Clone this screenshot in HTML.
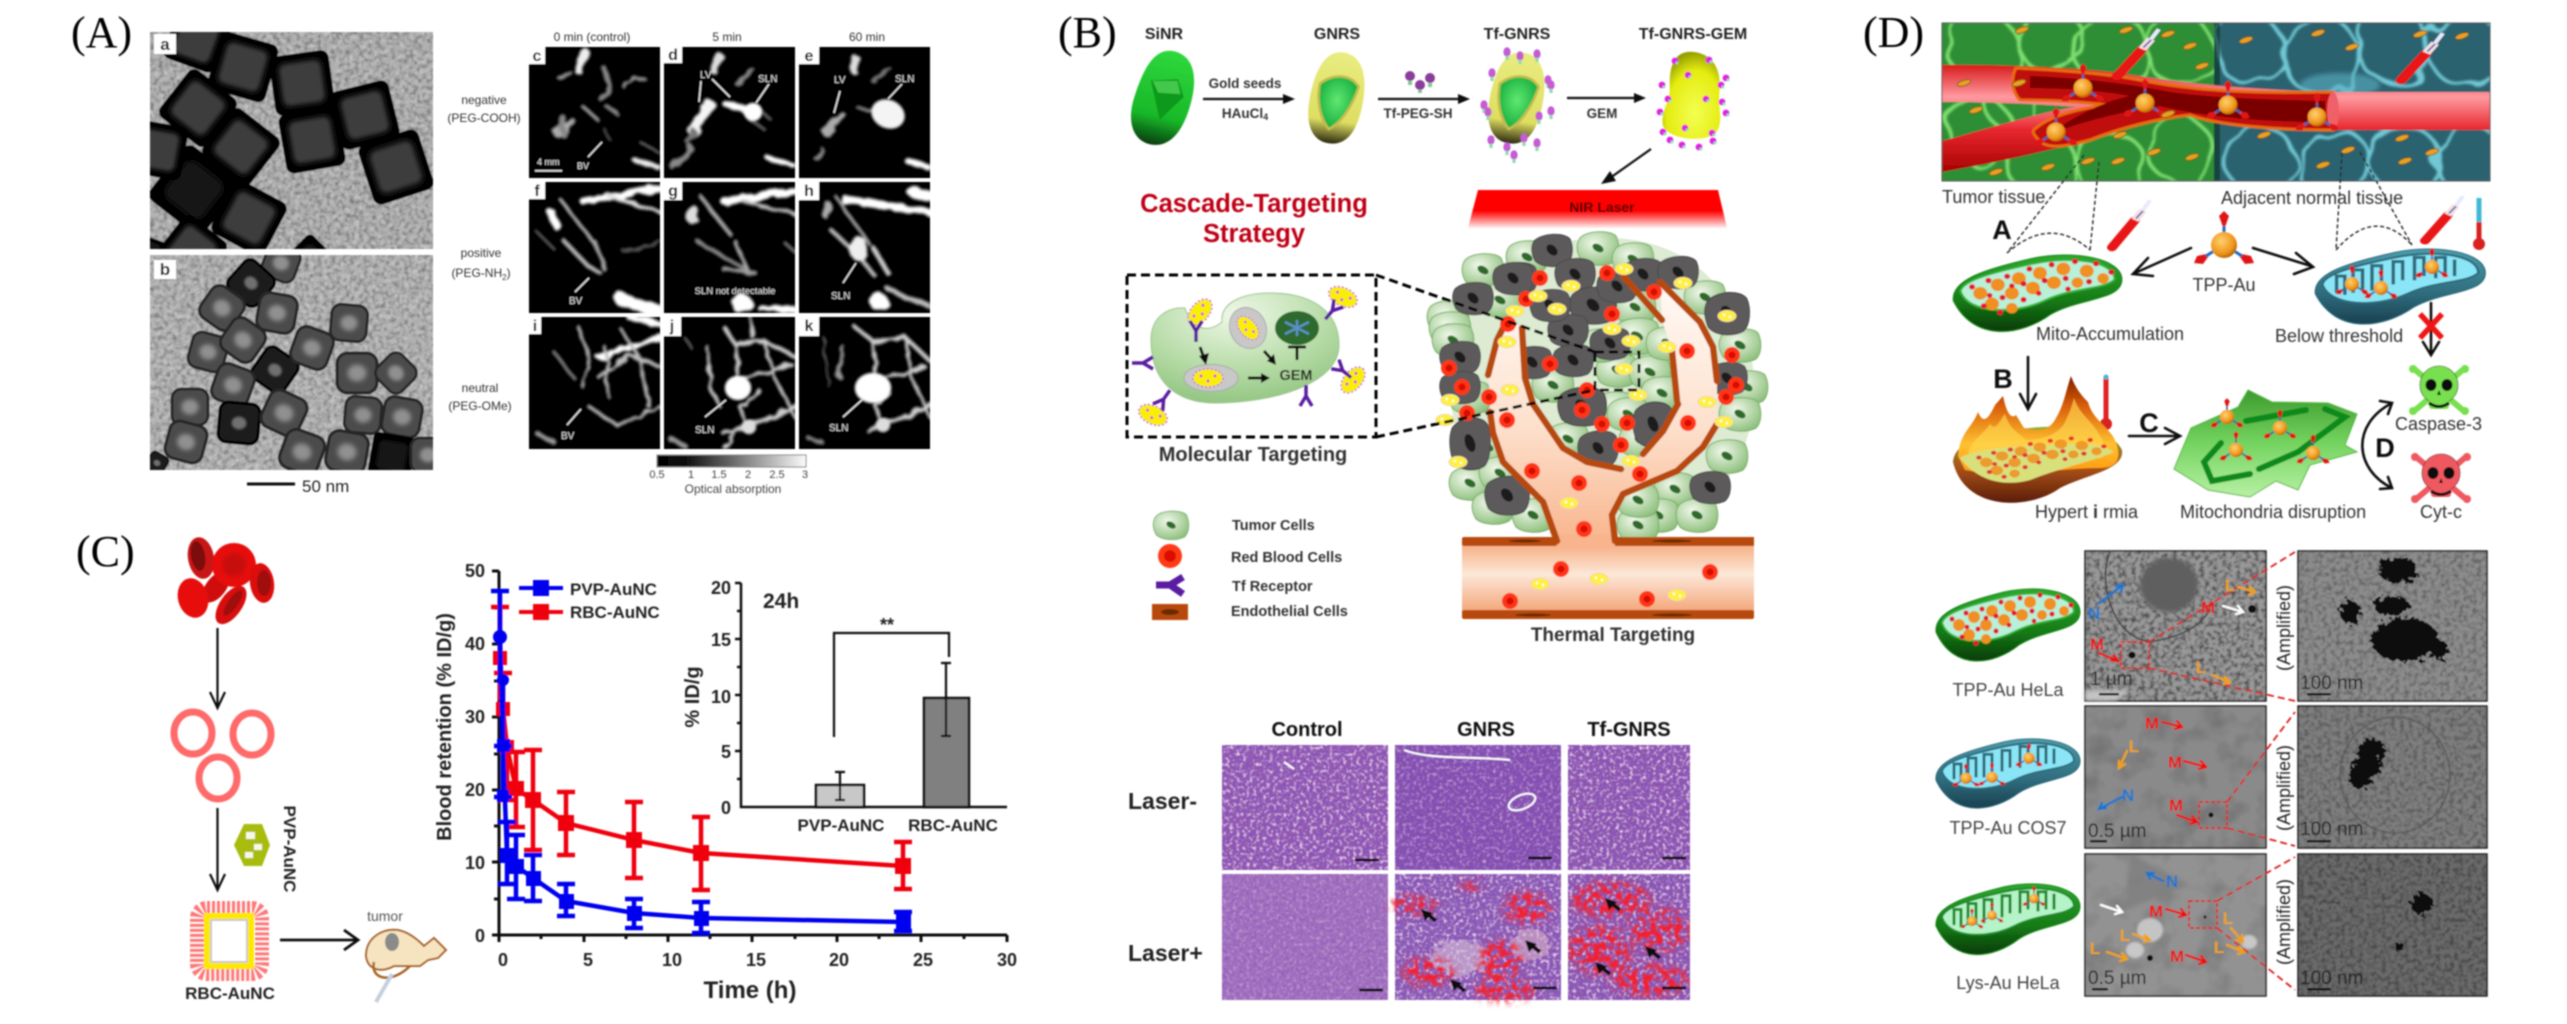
<!DOCTYPE html>
<html><head><meta charset="utf-8"><title>Gold nanostructures figure</title>
<style>
html,body{margin:0;padding:0;background:#fff}
svg{display:block}
text{font-family:"Liberation Sans",sans-serif}
.ser{font-family:"Liberation Serif",serif;font-size:44px;fill:#000}
.b{font-weight:bold}
</style></head><body>
<svg xmlns="http://www.w3.org/2000/svg" width="2567" height="1024" viewBox="0 0 2567 1024">
<defs>
<filter id="bl05" x="-5%" y="-5%" width="110%" height="110%"><feGaussianBlur stdDeviation=".75"/></filter>
<filter id="bl1" x="-20%" y="-20%" width="140%" height="140%"><feGaussianBlur stdDeviation="1.1"/></filter>
<filter id="bl2" x="-30%" y="-30%" width="160%" height="160%"><feGaussianBlur stdDeviation="2.2"/></filter>
<filter id="bl4" x="-30%" y="-30%" width="160%" height="160%"><feGaussianBlur stdDeviation="4"/></filter>
<filter id="pf" x="-10%" y="-10%" width="120%" height="120%"><feTurbulence type="fractalNoise" baseFrequency=".07" numOctaves="2" seed="8" result="n"/><feDisplacementMap in="SourceGraphic" in2="n" scale="9" result="d"/><feGaussianBlur in="d" stdDeviation="1.3"/></filter>
<filter id="cellf" x="-5%" y="-5%" width="110%" height="110%"><feTurbulence type="fractalNoise" baseFrequency=".025" numOctaves="2" seed="5" result="n"/><feDisplacementMap in="SourceGraphic" in2="n" scale="26" result="d"/><feGaussianBlur in="d" stdDeviation="1.1"/></filter>
<filter id="nd" x="0" y="0" width="100%" height="100%"><feTurbulence type="fractalNoise" baseFrequency=".22" numOctaves="2" seed="4"/><feColorMatrix values="0 0 0 0 0 0 0 0 0 0 0 0 0 0 0 2.4 0 0 0 -.98"/></filter>
<filter id="nl" x="0" y="0" width="100%" height="100%"><feTurbulence type="fractalNoise" baseFrequency=".2" numOctaves="2" seed="9"/><feColorMatrix values="0 0 0 0 1 0 0 0 0 1 0 0 0 0 1 0 2.4 0 0 -.98"/></filter>
<filter id="tmd" x="0" y="0" width="100%" height="100%"><feTurbulence type="fractalNoise" baseFrequency=".035" numOctaves="3" seed="12"/><feColorMatrix values="0 0 0 0 0 0 0 0 0 0 0 0 0 0 0 3 0 0 0 -1.35"/></filter>
<filter id="ftd" x="0" y="0" width="100%" height="100%"><feTurbulence type="fractalNoise" baseFrequency=".28" numOctaves="2" seed="21"/><feColorMatrix values="0 0 0 0 .25 0 0 0 0 .08 0 0 0 0 .52 3.4 0 0 0 -1.5"/></filter>
<filter id="ftl" x="0" y="0" width="100%" height="100%"><feTurbulence type="fractalNoise" baseFrequency=".3" numOctaves="2" seed="33"/><feColorMatrix values="0 0 0 0 .9 0 0 0 0 .72 0 0 0 0 .9 0 3 0 0 -1.5"/></filter>
<filter id="jag" x="-20%" y="-20%" width="140%" height="140%"><feGaussianBlur in="SourceGraphic" stdDeviation="4" result="s"/><feTurbulence type="fractalNoise" baseFrequency=".16" numOctaves="2" seed="6"/><feColorMatrix values="0 0 0 0 0 0 0 0 0 0 0 0 0 0 0 7 0 0 0 -3" result="m"/><feComposite in="s" in2="m" operator="in"/><feGaussianBlur stdDeviation=".5"/></filter>
<filter id="jag2" x="-20%" y="-20%" width="140%" height="140%"><feTurbulence type="fractalNoise" baseFrequency=".2" numOctaves="2" seed="16" result="n"/><feDisplacementMap in="SourceGraphic" in2="n" scale="14"/></filter>
<radialGradient id="gcG" cx=".4" cy=".35" r=".75"><stop offset="0" stop-color="#f0f8ea"/><stop offset="1" stop-color="#86bb74"/></radialGradient>
<linearGradient id="sinr" x1="0" y1="0" x2="0" y2="1"><stop offset="0" stop-color="#2fd83c"/><stop offset=".7" stop-color="#18b828"/><stop offset="1" stop-color="#063c0e"/></linearGradient>
<linearGradient id="gold" x1="0" y1="0" x2="0" y2="1"><stop offset="0" stop-color="#e8ec80"/><stop offset=".75" stop-color="#dede62"/><stop offset="1" stop-color="#2c2a10"/></linearGradient>
<radialGradient id="gwin" cx=".5" cy=".45" r=".6"><stop offset="0" stop-color="#60e870"/><stop offset="1" stop-color="#0ea83a"/></radialGradient>
<radialGradient id="gem" cx=".55" cy=".7" r=".7"><stop offset="0" stop-color="#f4ff50"/><stop offset=".7" stop-color="#e4ec10"/><stop offset="1" stop-color="#98a000"/></radialGradient>
<linearGradient id="las" x1="0" y1="0" x2="0" y2="1"><stop offset="0" stop-color="#ff0000"/><stop offset=".55" stop-color="#ff0000"/><stop offset="1" stop-color="#fff0f0"/></linearGradient>
<radialGradient id="mc" cx=".45" cy=".2" r=".9"><stop offset="0" stop-color="#eff8e8"/><stop offset=".55" stop-color="#b6dba6"/><stop offset="1" stop-color="#88bf78"/></radialGradient>
<linearGradient id="ves" x1="0" y1="0" x2="0" y2="1"><stop offset="0" stop-color="#f5a87a"/><stop offset=".45" stop-color="#fde7d8"/><stop offset="1" stop-color="#f2a070"/></linearGradient>
<linearGradient id="tree" x1="0" y1="0" x2="0" y2="1"><stop offset="0" stop-color="#fffaf6"/><stop offset=".55" stop-color="#fde0cc"/><stop offset="1" stop-color="#f8b48c"/></linearGradient>
<linearGradient id="cb" x1="0" y1="0" x2="1" y2="0"><stop offset="0" stop-color="#000"/><stop offset=".2" stop-color="#111"/><stop offset="1" stop-color="#fafafa"/></linearGradient>
<linearGradient id="vr" x1="0" y1="0" x2="0" y2="1"><stop offset="0" stop-color="#d81a1a"/><stop offset=".3" stop-color="#ff9aa0"/><stop offset=".6" stop-color="#e82830"/><stop offset="1" stop-color="#a80000"/></linearGradient>
<radialGradient id="au" cx=".4" cy=".35" r=".7"><stop offset="0" stop-color="#ffd070"/><stop offset=".7" stop-color="#ee9418"/><stop offset="1" stop-color="#a85a00"/></radialGradient>
<linearGradient id="mgb" x1="0" y1="0" x2="0" y2="1"><stop offset="0" stop-color="#2ea82e"/><stop offset=".6" stop-color="#167a16"/><stop offset="1" stop-color="#063a06"/></linearGradient>
<linearGradient id="mbb" x1="0" y1="0" x2="0" y2="1"><stop offset="0" stop-color="#4c9cac"/><stop offset=".6" stop-color="#2e6b7c"/><stop offset="1" stop-color="#1a4050"/></linearGradient>
<linearGradient id="flame" x1="0" y1="0" x2="0" y2="1"><stop offset="0" stop-color="#7c1c00"/><stop offset=".3" stop-color="#d85c08"/><stop offset=".7" stop-color="#ffc030"/><stop offset="1" stop-color="#ff9a10"/></linearGradient>
<linearGradient id="hb" x1="0" y1="0" x2="0" y2="1"><stop offset="0" stop-color="#90b030"/><stop offset=".55" stop-color="#a85018"/><stop offset="1" stop-color="#5a1c06"/></linearGradient>
<linearGradient id="dis" x1="0" y1="0" x2="0" y2="1"><stop offset="0" stop-color="#3c9a2c"/><stop offset=".5" stop-color="#74d460"/><stop offset="1" stop-color="#b8f0a4"/></linearGradient>

<g id="gc"><path d="M-18,-10C-10,-18 12,-18 18,-12C22,-4 22,8 16,14C6,19 -10,18 -17,12C-22,4 -22,-4 -18,-10Z" fill="url(#gcG)" stroke="#78ad68"/><ellipse rx="6" ry="3.6" fill="#2e6a2a" transform="rotate(30)"/></g>
<g id="dc"><path d="M-18,-9C-10,-17 12,-18 18,-11C22,-3 21,9 15,14C6,18 -10,18 -17,11C-21,3 -21,-4 -18,-9Z" fill="#5d5a5c" stroke="#4a4a4a"/><ellipse rx="6.5" ry="4.4" fill="#1c1c1c" transform="rotate(45)"/></g>
<g id="rb"><circle r="8" fill="#ff3414"/><circle r="3.6" fill="#d81000"/></g>
<g id="np"><ellipse rx="9" ry="5.6" fill="#fff040" stroke="#f0d8a0"/><circle cx="-3" cy="-1" r="1.2" fill="#fff"/><circle cx="3" cy="1" r="1.2" fill="#fff"/></g>
<g id="pl"><ellipse rx="15" ry="9" fill="#f8f000" stroke="#d060e0" stroke-width="1.6" stroke-dasharray="2 2"/><circle cx="-7" cy="-2" r="1.6" fill="#e050d0"/><circle cx="0" cy="3" r="1.6" fill="#e050d0"/><circle cx="7" cy="-2" r="1.6" fill="#e050d0"/></g>
<g id="rc"><path d="M0,12V1M0,1L-6,-9M0,1L6,-9" stroke="#5a1ea0" stroke-width="3.4" fill="none"/></g>
<g id="cube"><rect x="-30" y="-30" width="60" height="60" rx="8" fill="#060606"/><rect x="-21" y="-21" width="42" height="42" rx="7" fill="#3e3e3e" filter="url(#bl2)"/></g>
<g id="cubeD"><rect x="-30" y="-30" width="60" height="60" rx="8" fill="#020202"/><rect x="-20" y="-20" width="40" height="40" rx="8" fill="#141414" filter="url(#bl2)"/></g>
<g id="ck"><rect x="-19" y="-19" width="38" height="38" rx="10" fill="#4c4c4c" stroke="#262626" stroke-width="3"/><ellipse rx="9" ry="8" fill="#909090" filter="url(#bl2)"/></g>
<g id="ckD"><rect x="-19" y="-19" width="38" height="38" rx="8" fill="#1c1c1c" stroke="#060606" stroke-width="3"/><ellipse rx="7" ry="6" fill="#707070" filter="url(#bl1)"/></g>
<g id="tp"><path d="M0,-15L-5,-29L0,-34L5,-29Z" fill="#e01818"/><path d="M13,8L27,11L30,18L21,19Z" fill="#e01818"/><path d="M-13,8L-27,11L-30,18L-21,19Z" fill="#e01818"/><path d="M0,-12V-19M10,6L18,11M-10,6L-18,11" stroke="#1e6cc0" stroke-width="3"/><circle r="13" fill="url(#au)"/></g>
<g id="pill"><ellipse rx="7" ry="2.8" fill="#e8a020" stroke="#6a5010" stroke-width=".8" transform="rotate(-18)"/></g>
<g id="td"><ellipse rx="3.6" ry="4.8" fill="#c45cd4"/><rect x="-1.6" y="4" width="3.2" height="4" fill="#90d8b0"/></g>
<g id="gd"><circle r="3.4" fill="#e020e0"/><circle cx="2" cy="2" r="1.4" fill="#70f0b0"/></g>
<g id="sy"><path d="M0,40L23,4" stroke="#e81818" stroke-width="10" stroke-linecap="round"/><path d="M23,4L31,-9" stroke="#f4e0e0" stroke-width="8"/><path d="M24,2L31,-8" stroke="#3048b0" stroke-width="1.6"/><path d="M31,-9L38,-22" stroke="#e8e8ff" stroke-width="4"/></g>
<g id="sk" fill="currentColor"><path d="M-26,-22L26,22M26,-22L-26,22" stroke="currentColor" stroke-width="6" stroke-linecap="round"/><circle cx="-26" cy="-21" r="4"/><circle cx="26" cy="-21" r="4"/><circle cx="-26" cy="21" r="4"/><circle cx="26" cy="21" r="4"/><ellipse cy="-5" rx="19" ry="19" stroke="#2a2a2a" stroke-width=".6"/><rect x="-10" y="8" width="20" height="11" rx="3"/><ellipse cx="-8" cy="-5" rx="5.5" ry="6" fill="#111"/><ellipse cx="8" cy="-5" rx="5.5" ry="6" fill="#111"/><path d="M-2,5L2,5L0,0Z" fill="#111"/><path d="M-10,13Q0,20 10,13" stroke="#111" stroke-width="3" fill="none"/></g>
<g id="dots">
<circle cx="25" cy="38" r="6" fill="#f09020"/><circle cx="40" cy="30" r="6" fill="#f09020"/><circle cx="58" cy="24" r="6" fill="#f09020"/><circle cx="76" cy="19" r="6" fill="#f09020"/><circle cx="96" cy="15" r="6" fill="#f09020"/><circle cx="116" cy="17" r="6" fill="#f09020"/><circle cx="130" cy="24" r="5" fill="#f09020"/><circle cx="35" cy="48" r="6" fill="#f09020"/><circle cx="52" cy="38" r="6" fill="#f09020"/><circle cx="70" cy="33" r="6" fill="#f09020"/><circle cx="88" cy="28" r="6" fill="#f09020"/><circle cx="108" cy="28" r="5" fill="#f09020"/><circle cx="52" cy="52" r="5" fill="#f09020"/>
<circle cx="18" cy="32" r="2.6" fill="#e81830"/><circle cx="32" cy="26" r="2.6" fill="#e81830"/><circle cx="48" cy="22" r="2.6" fill="#e81830"/><circle cx="67" cy="15" r="2.6" fill="#e81830"/><circle cx="86" cy="11" r="2.6" fill="#e81830"/><circle cx="106" cy="8" r="2.6" fill="#e81830"/><circle cx="124" cy="10" r="2.6" fill="#e81830"/><circle cx="137" cy="18" r="2.6" fill="#e81830"/><circle cx="44" cy="42" r="2.6" fill="#e81830"/><circle cx="62" cy="29" r="2.6" fill="#e81830"/><circle cx="80" cy="26" r="2.6" fill="#e81830"/><circle cx="98" cy="24" r="2.6" fill="#e81830"/><circle cx="118" cy="27" r="2.6" fill="#e81830"/><circle cx="28" cy="50" r="2.6" fill="#e81830"/><circle cx="62" cy="44" r="2.6" fill="#e81830"/><circle cx="42" cy="56" r="2.6" fill="#e81830"/><circle cx="33" cy="40" r="2.4" fill="#e81830"/><circle cx="75" cy="38" r="2.4" fill="#e81830"/><circle cx="100" cy="34" r="2.4" fill="#e81830"/><circle cx="52" cy="31" r="2.4" fill="#e81830"/>
</g>
<path id="mo" d="M2,45C0,25 30,15 70,5C105,-3 146,5 146,25C146,45 110,42 85,58C60,78 20,85 2,45Z"/>
<path id="mi" d="M8,36C10,25 40,17 70,10C105,2 140,8 140,25C130,35 105,32 80,45C55,58 15,58 8,36Z"/>
<path id="cr" d="M20,44V28H27V46M34,44V22H42V42M50,42V18H58V36M68,36V14H76V32M86,32V10H94V28M104,30V10H112V28M120,28V12" fill="none" stroke-width="3"/>
<clipPath id="cA"><rect x="150" y="32" width="283" height="217"/></clipPath>
<clipPath id="cB"><rect x="150" y="255" width="283" height="215"/></clipPath>
<clipPath id="cP"><rect width="131" height="132"/></clipPath>
<clipPath id="cT1"><rect x="1942" y="23" width="272" height="158"/></clipPath>
<clipPath id="cT2"><rect x="2214" y="23" width="276" height="158"/></clipPath>
<clipPath id="cTop"><rect x="1942" y="23" width="548" height="158"/></clipPath>
<clipPath id="cTT"><rect x="1568" y="874" width="122" height="126"/></clipPath>
</defs>

<rect width="2567" height="1024" fill="#fff"/>
<g filter="url(#bl05)">
<text class="ser" x="71" y="47">(A)</text>
<text class="ser" x="1058" y="47">(B)</text>
<text class="ser" x="76" y="566">(C)</text>
<text class="ser" x="1863" y="47">(D)</text>

<!-- ==== A ==== -->
<rect x="150" y="32" width="283" height="217" fill="#adadad"/>
<rect x="150" y="32" width="283" height="217" filter="url(#nd)" opacity=".3"/>
<rect x="150" y="32" width="283" height="217" filter="url(#nl)" opacity=".3"/>
<g clip-path="url(#cA)">
<use href="#cube" transform="translate(243,67) rotate(16) scale(1)"/>
<use href="#cube" transform="translate(302,83) rotate(-8) scale(1)"/>
<use href="#cube" transform="translate(198,108) rotate(38) scale(1)"/>
<use href="#cube" transform="translate(365,115) rotate(-14) scale(1)"/>
<use href="#cube" transform="translate(241,147) rotate(38) scale(1)"/>
<use href="#cube" transform="translate(312,140) rotate(-10) scale(1)"/>
<use href="#cube" transform="translate(396,167) rotate(-18) scale(1.05)"/>
<use href="#cubeD" transform="translate(194,190) rotate(38) scale(1.15)"/>
<use href="#cube" transform="translate(249,218) rotate(28) scale(1)"/>
<use href="#cube" transform="translate(192,250) rotate(38) scale(.9)"/>
<use href="#cube" transform="translate(196,40) rotate(20) scale(.9)"/>
<use href="#cube" transform="translate(158,150) rotate(10) scale(.9)"/>
<use href="#cubeD" transform="translate(310,262) rotate(45) scale(.7)"/>
<use href="#cubeD" transform="translate(150,250) rotate(20) scale(.4)"/>
</g>
<rect x="154" y="34" width="22" height="20" fill="#fff"/><text class="b" x="165" y="50" font-size="17" text-anchor="middle">a</text>

<rect x="150" y="255" width="283" height="215" fill="#b0b0b0"/>
<rect x="150" y="255" width="283" height="215" filter="url(#nd)" opacity=".3"/>
<rect x="150" y="255" width="283" height="215" filter="url(#nl)" opacity=".3"/>
<g clip-path="url(#cB)">
<use href="#ck" transform="translate(281,263) rotate(20) scale(.9)"/>
<use href="#ckD" transform="translate(251,283) rotate(42)"/>
<use href="#ck" transform="translate(222,308) rotate(35)"/>
<use href="#ck" transform="translate(277,313) rotate(10)"/>
<use href="#ck" transform="translate(349,323) rotate(5) scale(.95)"/>
<use href="#ck" transform="translate(208,352) rotate(15) scale(.95)"/>
<use href="#ck" transform="translate(243,340) rotate(35) scale(1)"/>
<use href="#ckD" transform="translate(275,370) rotate(35)"/>
<use href="#ck" transform="translate(312,348) rotate(20) scale(1)"/>
<use href="#ck" transform="translate(233,385) rotate(20)"/>
<use href="#ck" transform="translate(357,373) rotate(0) scale(1.05)"/>
<use href="#ck" transform="translate(396,373) rotate(45) scale(.9)"/>
<use href="#ck" transform="translate(190,407) rotate(0) scale(.95)"/>
<use href="#ck" transform="translate(186,442) rotate(15) scale(1)"/>
<use href="#ckD" transform="translate(239,423) rotate(5) scale(1.05)"/>
<use href="#ck" transform="translate(284,413) rotate(25) scale(1.05)"/>
<use href="#ck" transform="translate(363,415) rotate(5) scale(.95)"/>
<use href="#ck" transform="translate(402,417) rotate(10) scale(1)"/>
<use href="#ck" transform="translate(302,452) rotate(20) scale(1.05)"/>
<use href="#ck" transform="translate(347,452) rotate(10) scale(1.05)"/>
<use href="#cubeD" transform="translate(392,456) rotate(10) scale(.72)"/>
<use href="#ck" transform="translate(428,455) rotate(0) scale(.9)"/>
<use href="#ckD" transform="translate(157,463) rotate(30) scale(.5)"/>
</g>
<rect x="154" y="260" width="22" height="19" fill="#fff"/><text class="b" x="165" y="275" font-size="17" text-anchor="middle">b</text>
<rect x="247" y="482.500" width="48" height="3" fill="#111"/>
<text x="302" y="492" font-size="17" fill="#222">50 nm</text>

<g font-size="12" fill="#333" text-anchor="middle">
<text x="592" y="41">0 min (control)</text><text x="727" y="41">5 min</text><text x="867" y="41">60 min</text>
<text x="484" y="104">negative</text><text x="484" y="122">(PEG-COOH)</text>
<text x="481" y="257">positive</text><text x="481" y="277">(PEG-NH<tspan font-size="8" dy="3">2</tspan><tspan dy="-3">)</tspan></text>
<text x="480" y="392">neutral</text><text x="480" y="410">(PEG-OMe)</text>
</g>

<g id="pa">
<!-- c -->
<g transform="translate(529,47)" clip-path="url(#cP)"><rect width="131" height="131"/>
<g filter="url(#pf)" fill="none" stroke-linecap="round">
<path d="M56,5L50,24" stroke="#eee" stroke-width="8"/><path d="M40,25L32,32" stroke="#999" stroke-width="5"/><path d="M76,22L80,38L72,52" stroke="#888" stroke-width="5"/><path d="M95,40L105,30L118,34" stroke="#999" stroke-width="3"/>
<path d="M52,58L68,72" stroke="#aaa" stroke-width="3"/><path d="M78,60L90,68" stroke="#888" stroke-width="4"/><path d="M28,86L44,76" stroke="#aaa" stroke-width="8"/><path d="M34,70L34,88" stroke="#888" stroke-width="5"/><path d="M74,80L80,92" stroke="#555" stroke-width="2"/>
<path d="M105,112L131,122" stroke="#eee" stroke-width="5"/><path d="M112,96L128,104" stroke="#777" stroke-width="2"/>
</g>
<g fill="#e8e8e8" font-size="9"><text x="8" y="118">4 mm</text><text x="48" y="122">BV</text></g>
<rect x="6" y="123" width="27" height="1.600" fill="#ddd"/><path d="M59,110L73,95" stroke="#ddd" stroke-width="1.600"/>
<rect width="16" height="17" fill="#fff"/><text class="b" x="8" y="14" font-size="16" text-anchor="middle">c</text></g>
<!-- d -->
<g transform="translate(664,47)" clip-path="url(#cP)"><rect width="131" height="131"/>
<g filter="url(#pf)" fill="none" stroke-linecap="round">
<path d="M46,57L29,85" stroke="#f4f4f4" stroke-width="9"/><path d="M63,57L86,65" stroke="#fff" stroke-width="8"/><path d="M56,10L50,24" stroke="#ddd" stroke-width="8"/><path d="M73,37L89,23" stroke="#888" stroke-width="4"/><path d="M9,120L26,100" stroke="#888" stroke-width="6"/><path d="M103,110L131,120" stroke="#fff" stroke-width="5"/><path d="M92,60L106,72M86,72L100,82" stroke="#666" stroke-width="3"/><path d="M30,85L24,94" stroke="#777" stroke-width="6"/>
</g>
<ellipse cx="89" cy="65" rx="9" ry="9" fill="#fff" filter="url(#bl1)"/>
<g fill="#ddd" font-size="10"><text x="36" y="31">LV</text><text x="94" y="35">SLN</text></g>
<path d="M48,32L66,50M37,34L35,55M105,37L92,56" stroke="#ddd" stroke-width="1.600"/>
<rect width="18" height="16" fill="#fff"/><text class="b" x="9" y="13" font-size="16" text-anchor="middle">d</text></g>
<!-- e -->
<g transform="translate(799,47)" clip-path="url(#cP)"><rect width="131" height="131"/>
<g filter="url(#pf)" fill="none" stroke-linecap="round">
<path d="M43,68L27,86" stroke="#aaa" stroke-width="7"/><path d="M57,12L56,24" stroke="#ddd" stroke-width="8"/><path d="M74,34L91,22" stroke="#777" stroke-width="4"/><path d="M108,113L131,122" stroke="#fff" stroke-width="6"/><path d="M16,110L22,102" stroke="#888" stroke-width="5"/><path d="M60,62L78,66" stroke="#888" stroke-width="3"/>
</g>
<ellipse cx="89" cy="67" rx="17" ry="14" fill="#f4f4f4" filter="url(#bl1)" transform="rotate(25 89 67)"/>
<g fill="#ddd" font-size="10"><text x="35" y="36">LV</text><text x="96" y="35">SLN</text></g>
<path d="M41,44L35,66M103,37L89,52" stroke="#ddd" stroke-width="1.600"/>
<rect width="20" height="17" fill="#fff"/><text class="b" x="10" y="14" font-size="16" text-anchor="middle">e</text></g>
<!-- f -->
<g transform="translate(529,182)" clip-path="url(#cP)"><rect width="131" height="131"/>
<g filter="url(#pf)" fill="none" stroke-linecap="round">
<path d="M56,20L131,5" stroke="#fff" stroke-width="8"/><path d="M80,14L131,30" stroke="#ddd" stroke-width="4"/><path d="M22,30L28,44" stroke="#fff" stroke-width="8"/><path d="M30,16L66,62" stroke="#bbb" stroke-width="3"/><path d="M36,60L60,85L72,92" stroke="#bbb" stroke-width="4"/><path d="M66,60L76,88" stroke="#aaa" stroke-width="4"/><path d="M8,50L24,66" stroke="#777" stroke-width="2"/><path d="M90,116L130,130" stroke="#fff" stroke-width="12"/><path d="M95,70L131,60" stroke="#555" stroke-width="3"/>
</g>
<text x="40" y="122" fill="#ddd" font-size="10">BV</text><path d="M46,110L60,96" stroke="#ddd" stroke-width="1.600"/>
<rect width="16" height="17" fill="#fff"/><text class="b" x="8" y="14" font-size="16" text-anchor="middle">f</text></g>
<!-- g -->
<g transform="translate(664,182)" clip-path="url(#cP)"><rect width="131" height="131"/>
<g filter="url(#pf)" fill="none" stroke-linecap="round">
<path d="M62,20L131,8" stroke="#fff" stroke-width="9"/><path d="M80,20L131,32" stroke="#bbb" stroke-width="4"/><ellipse cx="28" cy="32" rx="6" ry="10" fill="#ddd" stroke="none"/><path d="M36,14L66,52" stroke="#aaa" stroke-width="4"/><path d="M34,60L80,86" stroke="#888" stroke-width="4"/><path d="M72,60L84,90" stroke="#aaa" stroke-width="4"/><path d="M60,88L90,90" stroke="#999" stroke-width="4"/><circle cx="78" cy="122" r="10" fill="#fff" stroke="none"/><path d="M95,125L131,128" stroke="#fff" stroke-width="5"/><path d="M120,60L131,70" stroke="#777" stroke-width="3"/>
</g>
<text x="71" y="112" fill="#ddd" font-size="9.500" text-anchor="middle">SLN not detectable</text>
<rect width="18" height="18" fill="#fff"/><text class="b" x="9" y="14" font-size="16" text-anchor="middle">g</text></g>
<!-- h -->
<g transform="translate(799,182)" clip-path="url(#cP)"><rect width="131" height="131"/>
<g filter="url(#pf)" fill="none" stroke-linecap="round">
<path d="M46,18L131,30" stroke="#fff" stroke-width="8"/><path d="M115,10L131,14" stroke="#fff" stroke-width="12"/><ellipse cx="28" cy="28" rx="5" ry="10" fill="#aaa" stroke="none"/><path d="M36,14L72,64" stroke="#aaa" stroke-width="3"/><path d="M32,48L58,72L76,94" stroke="#bbb" stroke-width="4"/><ellipse cx="59" cy="66" rx="9" ry="12" fill="#eee" stroke="none"/><path d="M76,68L88,90" stroke="#ccc" stroke-width="5"/><circle cx="80" cy="120" r="9" fill="#fff" stroke="none"/><path d="M90,108L131,125" stroke="#bbb" stroke-width="5"/>
</g>
<text x="32" y="117" fill="#ddd" font-size="10">SLN</text><path d="M44,101L57,81" stroke="#ddd" stroke-width="1.600"/>
<rect width="20" height="18" fill="#fff"/><text class="b" x="10" y="14" font-size="16" text-anchor="middle">h</text></g>
<!-- i -->
<g transform="translate(529,317)" clip-path="url(#cP)"><rect width="131" height="132"/>
<g filter="url(#pf)" fill="none" stroke-linecap="round" stroke="#bbb">
<path d="M50,10L60,40L54,70" stroke-width="3"/><path d="M26,36L44,60" stroke-width="3" stroke="#888"/><path d="M70,40L131,20" stroke-width="6" stroke="#fff"/><path d="M70,60L100,38L131,50" stroke-width="4"/><path d="M90,10L110,40L120,90" stroke-width="3"/><path d="M60,90L90,110L131,90" stroke-width="3"/><path d="M76,30L80,80" stroke-width="3"/><path d="M100,0L131,6" stroke="#fff" stroke-width="6"/><path d="M10,118L24,124" stroke="#999" stroke-width="5"/>
</g>
<text x="32" y="122" fill="#ddd" font-size="10">BV</text><path d="M38,108L52,92" stroke="#ddd" stroke-width="1.600"/>
<rect width="12" height="17" fill="#fff"/><text class="b" x="6" y="14" font-size="16" text-anchor="middle">i</text></g>
<!-- j -->
<g transform="translate(664,317)" clip-path="url(#cP)"><rect width="131" height="132"/>
<g filter="url(#pf)" fill="none" stroke-linecap="round" stroke="#ccc">
<path d="M60,10L72,28L100,24L131,40" stroke-width="4"/><path d="M72,28L74,66M100,24L110,60L131,100" stroke-width="3"/><path d="M44,30L46,70L56,90" stroke-width="3"/><path d="M74,66L110,52L128,48" stroke-width="4"/><path d="M60,116L84,110L112,100L131,90" stroke-width="5"/><path d="M84,110L76,90L96,74" stroke-width="3"/><path d="M20,20L30,34" stroke="#777" stroke-width="2"/><path d="M6,122L20,128" stroke="#999" stroke-width="5"/><path d="M60,130L70,118" stroke-width="3"/><path d="M86,0L88,20" stroke-width="3"/>
</g>
<ellipse cx="74" cy="71" rx="13" ry="12" fill="#fff" filter="url(#bl1)"/><circle cx="85" cy="110" r="7" fill="#ddd" filter="url(#bl1)"/>
<text x="31" y="116" fill="#ddd" font-size="10">SLN</text><path d="M41,100L62,83" stroke="#ddd" stroke-width="1.600"/>
<rect width="17" height="19" fill="#fff"/><text class="b" x="8" y="14" font-size="16" text-anchor="middle">j</text></g>
<!-- k -->
<g transform="translate(799,317)" clip-path="url(#cP)"><rect width="131" height="132"/>
<g filter="url(#pf)" fill="none" stroke-linecap="round" stroke="#ccc">
<path d="M56,10L76,26L106,20L131,44" stroke-width="4"/><path d="M74,26L76,60M106,20L112,60L131,100" stroke-width="3"/><path d="M44,30L40,60" stroke="#999" stroke-width="4"/><path d="M88,62L112,54L126,50" stroke-width="4"/><path d="M70,114L84,108L110,100L131,88" stroke-width="5"/><path d="M84,108L76,88L90,76" stroke-width="3"/><path d="M24,20L30,70" stroke="#666" stroke-width="2"/><path d="M10,122L22,124" stroke="#888" stroke-width="4"/>
</g>
<ellipse cx="74" cy="71" rx="18" ry="15" fill="#fff" filter="url(#bl1)"/><circle cx="84" cy="108" r="7" fill="#ddd" filter="url(#bl1)"/>
<text x="30" y="114" fill="#ddd" font-size="10">SLN</text><path d="M44,100L64,82" stroke="#ddd" stroke-width="1.600"/>
<rect width="20" height="19" fill="#fff"/><text class="b" x="10" y="14" font-size="16" text-anchor="middle">k</text></g>
</g>
<rect x="657" y="455" width="149" height="12" fill="url(#cb)" stroke="#888"/>
<g font-size="11" fill="#444" text-anchor="middle"><text x="657" y="478">0.5</text><text x="691" y="478">1</text><text x="719" y="478">1.5</text><text x="748" y="478">2</text><text x="777" y="478">2.5</text><text x="805" y="478">3</text></g>
<text x="733" y="493" font-size="12" fill="#444" text-anchor="middle">Optical absorption</text>

<!-- ==== C left ==== -->
<g>
<ellipse cx="201" cy="558" rx="13" ry="21" fill="#c81414" transform="rotate(-10 201 558)"/><ellipse cx="198" cy="556" rx="7" ry="15" fill="#7c0808" transform="rotate(-10 198 556)"/>
<ellipse cx="216" cy="587" rx="10" ry="18" fill="#d01010" transform="rotate(38 216 587)"/>
<circle cx="234" cy="565" r="22" fill="#e80e0e"/><circle cx="234" cy="565" r="12" fill="#c80c0c" filter="url(#bl2)"/>
<ellipse cx="262" cy="583" rx="12" ry="20" fill="#dc1010" transform="rotate(-8 262 583)"/><ellipse cx="264" cy="583" rx="7" ry="13" fill="#a00a0a"/>
<ellipse cx="193" cy="598" rx="15" ry="20" fill="#e80e0e" transform="rotate(-15 193 598)"/>
<ellipse cx="231" cy="605" rx="11" ry="22" fill="#d80c0c" transform="rotate(35 231 605)"/><ellipse cx="233" cy="603" rx="5" ry="15" fill="#a00808" transform="rotate(35 233 603)"/>
</g>
<path d="M217.500,628V706M210,692L217.500,708L225,692" stroke="#111" stroke-width="2.200" fill="none"/>
<g fill="none" stroke="#ff6a6a" stroke-width="7"><ellipse cx="193" cy="733" rx="19" ry="21"/><ellipse cx="252" cy="734" rx="19" ry="21"/><ellipse cx="218" cy="778" rx="19" ry="21"/></g>
<path d="M217.500,808V888M210,874L217.500,890L225,874" stroke="#111" stroke-width="2.200" fill="none"/>
<path d="M234,845L244,824H262L270,845L262,866H244Z" fill="#a8bc10"/><path d="M246,832h9v7h-9zM254,844h8v6h-8zM245,852h8v6h-8z" fill="#fff" opacity=".9"/>
<text class="b" x="0" y="0" font-size="17" fill="#222" text-anchor="middle" transform="translate(284,849) rotate(90)">PVP-AuNC</text>
<rect x="197" y="908" width="65" height="66" rx="10" fill="none" stroke="#ff7878" stroke-width="14" stroke-dasharray="3 2"/>
<rect x="207" y="916" width="44" height="50" fill="#fff" stroke="#ffe800" stroke-width="6"/><rect x="211" y="920" width="36" height="42" fill="#fff" stroke="#c8c8c8" stroke-width="2"/>
<text class="b" x="230" y="999" font-size="17" fill="#222" text-anchor="middle">RBC-AuNC</text>
<path d="M280,940H356M344,930L358,940L344,950" stroke="#111" stroke-width="2.800" fill="none"/>
<text x="385" y="921" font-size="14" fill="#555" text-anchor="middle">tumor</text>
<g>
<path d="M366,956C366,938 382,928 398,930C408,932 416,938 424,946L434,938L440,944L446,950L438,958L428,960L420,966L394,966C384,972 368,972 366,956Z" fill="#f6e4c0" stroke="#a86428" stroke-width="2"/>
<ellipse cx="392" cy="942" rx="7" ry="9" fill="#8a8a8a"/>
<path d="M374,962C370,980 392,984 410,966" stroke="#a86428" stroke-width="2.500" fill="none"/>
<path d="M376,1002L392,974" stroke="#c4d0dc" stroke-width="4"/>
</g>

<!-- ==== C chart ==== -->
<g fill="none" stroke="#111" stroke-width="3">
<path d="M499,571V935H1007"/>
<path d="M492,571H499M492,644H499M492,717H499M492,790H499M492,862H499M492,935H499M494,608H499M494,681H499M494,754H499M494,826H499M494,899H499"/>
<path d="M499,935V942M584,935V942M668,935V942M752,935V942M837,935V942M921,935V942M1007,935V942M541,935V939M626,935V939M710,935V939M795,935V939M879,935V939M964,935V939"/>
</g>
<g class="b" font-weight="bold" font-size="18" fill="#222" text-anchor="end"><text x="485" y="577">50</text><text x="485" y="650">40</text><text x="485" y="723">30</text><text x="485" y="796">20</text><text x="485" y="869">10</text><text x="485" y="942">0</text></g>
<g font-weight="bold" font-size="18" fill="#222" text-anchor="middle"><text x="503" y="966">0</text><text x="588" y="966">5</text><text x="672" y="966">10</text><text x="756" y="966">15</text><text x="839" y="966">20</text><text x="923" y="966">25</text><text x="1007" y="966">30</text></g>
<text font-weight="bold" font-size="20" fill="#222" text-anchor="middle" transform="translate(451,727) rotate(-90)">Blood retention (% ID/g)</text>
<text font-weight="bold" font-size="24" fill="#222" text-anchor="middle" x="750" y="998">Time  (h)</text>
<g stroke="#f00010" fill="none" stroke-width="4.500">
<path d="M500,658L503,709L507,747L516,789L533,800L566,823L634,840L701,853L903,866"/>
<path d="M500,607V700M491,607H509M503,673V746M494,673H512M507,747V800M498,800H516M516,752V827M507,752H525M507,827H525M533,750V850M524,750H542M524,850H542M566,792V855M557,792H575M557,855H575M634,802V878M625,802H643M625,878H643M701,817V890M692,817H710M692,890H710M903,842V889M894,842H912M894,889H912"/>
</g>
<g fill="#f00010"><rect x="493" y="651" width="14" height="14"/><rect x="496" y="702" width="14" height="14"/><rect x="500" y="740" width="14" height="14"/><rect x="509" y="781" width="15" height="15"/><rect x="525" y="792" width="16" height="16"/><rect x="558" y="815" width="16" height="16"/><rect x="626" y="832" width="16" height="16"/><rect x="693" y="845" width="16" height="16"/><rect x="895" y="858" width="16" height="16"/></g>
<g stroke="#0000f0" fill="none" stroke-width="4.500">
<path d="M500,637L503,746L507,855L516,866L533,878L566,901L634,913L701,918L903,922"/>
<path d="M500,591V680M491,591H509M503,680V797M494,746H512M494,797H512M507,822V884M498,822H516M498,884H516M516,835V899M507,835H525M507,899H525M533,855V901M524,855H542M524,901H542M566,884V916M557,884H575M557,916H575M634,899V928M625,899H643M625,928H643M701,902V935M692,902H710M692,933H710M903,912V931M894,912H912M894,931H912"/>
</g>
<g fill="#0000f0"><circle cx="500" cy="637" r="7"/><circle cx="503" cy="680" r="6"/><rect x="497" y="739" width="13" height="13"/><rect x="497" y="790" width="12" height="12"/><rect x="500" y="848" width="15" height="15"/><rect x="509" y="859" width="15" height="15"/><rect x="526" y="871" width="15" height="15"/><rect x="559" y="894" width="15" height="15"/><rect x="627" y="906" width="15" height="15"/><rect x="694" y="911" width="15" height="15"/><rect x="896" y="913" width="15" height="18"/></g>
<path d="M519,588H563" stroke="#0000f0" stroke-width="4"/><rect x="533" y="580" width="16" height="16" fill="#0000f0"/>
<path d="M519,612H563" stroke="#f00010" stroke-width="4"/><rect x="533" y="604" width="16" height="16" fill="#f00010"/>
<g font-weight="bold" font-size="17" fill="#222"><text x="570" y="595">PVP-AuNC</text><text x="570" y="618">RBC-AuNC</text></g>
<g fill="none" stroke="#111" stroke-width="2.500"><path d="M741,583V807H1007"/><path d="M735,583H741M735,639H741M735,695H741M735,751H741M737,611H741M737,667H741M737,723H741M737,779H741"/></g>
<g font-weight="bold" font-size="18" fill="#222" text-anchor="end"><text x="731" y="594">20</text><text x="731" y="646">15</text><text x="731" y="703">10</text><text x="731" y="758">5</text><text x="731" y="814">0</text></g>
<rect x="816" y="785" width="48" height="22" fill="#c8c8c8" stroke="#111" stroke-width="2.500"/>
<rect x="924" y="698" width="45" height="109" fill="#808080" stroke="#111" stroke-width="2.500"/>
<path d="M840,772V800M835,772H845M835,800H845M946,663V736M941,663H951M941,736H951M834,737V633H949V657" fill="none" stroke="#111" stroke-width="2.200"/>
<text x="887" y="631" font-weight="bold" font-size="18" fill="#222" text-anchor="middle">**</text>
<text x="763" y="608" font-weight="bold" font-size="21" fill="#222">24h</text>
<text font-weight="bold" font-size="20" fill="#222" text-anchor="middle" transform="translate(699,697) rotate(-90)">% ID/g</text>
<g font-weight="bold" font-size="17" fill="#222" text-anchor="middle"><text x="841" y="831">PVP-AuNC</text><text x="953" y="831">RBC-AuNC</text></g>

<!-- ==== B top ==== -->
<g font-weight="bold" font-size="16" fill="#222" text-anchor="middle"><text x="1164" y="39">SiNR</text><text x="1337" y="39">GNRS</text><text x="1517" y="39">Tf-GNRS</text><text x="1693" y="39">Tf-GNRS-GEM</text></g>
<g transform="translate(1163,98) rotate(14)"><path d="M0,-48C22,-48 30,-25 28,5C26,35 14,48 -2,48C-20,48 -30,30 -28,5C-26,-25 -20,-48 0,-48Z" fill="url(#sinr)"/><path d="M-16,-14L10,-22L20,-6L2,22Z" fill="#0e9a1a"/><path d="M-14,-14L10,-20L16,-8L-6,-4Z" fill="#42c84c"/></g>
<g transform="translate(1337,98) rotate(8)"><path d="M0,-46C22,-46 28,-20 26,5C24,34 14,46 -2,46C-20,46 -28,28 -27,5C-26,-20 -20,-46 0,-46Z" fill="url(#gold)"/><path d="M-19,-12C-5,-26 12,-24 20,-14C16,8 6,26 -4,32C-14,22 -20,6 -19,-12Z" fill="url(#gwin)" stroke="#c4bc50" stroke-width="2.500"/></g>
<g transform="translate(1517,98) rotate(8)"><path d="M0,-46C22,-46 28,-20 26,5C24,34 14,46 -2,46C-20,46 -28,28 -27,5C-26,-20 -20,-46 0,-46Z" fill="url(#gold)"/><path d="M-19,-12C-5,-26 12,-24 20,-14C16,8 6,26 -4,32C-14,22 -20,6 -19,-12Z" fill="url(#gwin)" stroke="#c4bc50" stroke-width="2.500"/></g>
<g><use href="#td" x="1507" y="52"/><use href="#td" x="1520" y="56"/><use href="#td" x="1537" y="54"/><use href="#td" x="1492" y="73"/><use href="#td" x="1548" y="80"/><use href="#td" x="1551" y="85"/><use href="#td" x="1484" y="105"/><use href="#td" x="1488" y="112"/><use href="#td" x="1539" y="116"/><use href="#td" x="1551" y="111"/><use href="#td" x="1491" y="140"/><use href="#td" x="1507" y="147"/><use href="#td" x="1524" y="138"/><use href="#td" x="1537" y="143"/><use href="#td" x="1514" y="155"/></g>
<g transform="translate(1693,98) rotate(4)"><path d="M-4,-46C20,-46 27,-26 26,-6C26,10 32,20 26,32C18,44 -20,44 -28,30C-32,16 -22,6 -24,-10C-26,-30 -22,-46 -4,-46Z" fill="url(#gem)"/></g>
<g><use href="#gd" x="1675" y="61"/><use href="#gd" x="1709" y="60"/><use href="#gd" x="1688" y="75"/><use href="#gd" x="1662" y="85"/><use href="#gd" x="1726" y="78"/><use href="#gd" x="1721" y="85"/><use href="#gd" x="1668" y="99"/><use href="#gd" x="1706" y="99"/><use href="#gd" x="1722" y="102"/><use href="#gd" x="1660" y="112"/><use href="#gd" x="1726" y="113"/><use href="#gd" x="1685" y="128"/><use href="#gd" x="1663" y="132"/><use href="#gd" x="1712" y="133"/><use href="#gd" x="1670" y="140"/><use href="#gd" x="1682" y="145"/><use href="#gd" x="1699" y="147"/><use href="#gd" x="1713" y="141"/></g>
<g fill="none" stroke="#111" stroke-width="2.200"><path d="M1203,99H1286"/><path d="M1378,99H1461"/><path d="M1567,98H1636"/><path d="M1651,149L1610,178"/></g>
<g fill="#111"><path d="M1295,99L1283,94V104Z"/><path d="M1470,99L1458,94V104Z"/><path d="M1646,98L1634,93V103Z"/><path d="M1601,184L1616,181L1610,171Z"/></g>
<g font-weight="bold" font-size="13.500" fill="#333" text-anchor="middle"><text x="1245" y="88">Gold seeds</text><text x="1245" y="118">HAuCl<tspan font-size="9" dy="2">4</tspan></text><text x="1418" y="118">Tf-PEG-SH</text><text x="1602" y="118">GEM</text></g>
<g><circle cx="1410" cy="76" r="5" fill="#8a3c9a"/><circle cx="1420" cy="85" r="5" fill="#8a3c9a"/><circle cx="1430" cy="78" r="5" fill="#8a3c9a"/><rect x="1408" y="81" width="4" height="4" fill="#80c890"/><rect x="1418" y="90" width="4" height="3" fill="#80c890"/><rect x="1428" y="83" width="4" height="4" fill="#80c890"/></g>

<text font-weight="bold" font-size="25.500" fill="#c00012" text-anchor="middle" x="1254" y="212">Cascade-Targeting</text>
<text font-weight="bold" font-size="25.500" fill="#c00012" text-anchor="middle" x="1254" y="242">Strategy</text>

<path d="M1478,190H1718L1727,228H1468Z" fill="url(#las)"/>
<text x="1602" y="212" font-weight="bold" font-size="14" fill="#300" text-anchor="middle">NIR Laser</text>

<path d="M1151,340C1151,315 1170,307 1185,308C1190,325 1205,336 1222,322C1220,300 1248,293 1270,293C1310,293 1339,310 1339,345C1339,385 1270,403 1215,403C1180,403 1151,385 1151,340Z" fill="url(#mc)" stroke="#9cc490"/>
<ellipse cx="1248" cy="328" rx="18" ry="21" fill="#c8c8c8" stroke="#aaa" transform="rotate(-25 1248 328)"/>
<use href="#pl" transform="translate(1248,328) rotate(50) scale(.9)"/>
<ellipse cx="1297" cy="328" rx="22" ry="17" fill="#2d6b2d"/><path d="M1285,322L1309,334M1285,334L1309,322M1297,320V336" stroke="#5a90c8" stroke-width="2.500"/>
<ellipse cx="1211" cy="378" rx="27" ry="13.500" fill="#c8c8c8" stroke="#aaa"/><use href="#pl" x="1208" y="378"/>
<use href="#pl" transform="translate(1343,297) rotate(25)"/><use href="#pl" transform="translate(1200,312) rotate(-50)"/><use href="#pl" transform="translate(1353,380) rotate(-50)"/><use href="#pl" transform="translate(1153,415) rotate(25)"/>
<use href="#rc" x="1196" y="330"/><use href="#rc" transform="translate(1144,363) rotate(90)"/><use href="#rc" transform="translate(1163,400) rotate(215)"/><use href="#rc" transform="translate(1306,397) rotate(180)"/><use href="#rc" transform="translate(1342,370) rotate(-50)"/><use href="#rc" transform="translate(1333,310) rotate(40)"/>
<path d="M1297,346V360M1288,347H1306" stroke="#111" stroke-width="3" fill="none"/>
<path d="M1200,347L1204,358M1264,351L1273,361M1248,378H1264" stroke="#111" stroke-width="3" fill="none"/><path d="M1206,365L1199,356L1209,353ZM1276,365L1267,361L1274,354ZM1270,378L1261,373V383Z" fill="#111"/>
<text x="1296" y="380" font-weight="bold" font-size="14.500" fill="#222" text-anchor="middle">GEM</text>
<text font-weight="bold" font-size="20" fill="#333" text-anchor="middle" x="1253" y="461">Molecular Targeting</text>

<g transform="translate(1171,525) scale(.85)"><use href="#gc"/></g>
<circle cx="1170" cy="556" r="12" fill="#ff3a18"/><circle cx="1170" cy="556" r="6" fill="#dc1000"/>
<path d="M1156,585H1170M1170,585L1183,577M1170,585L1183,594" stroke="#5a1ea0" stroke-width="7" fill="none"/>
<rect x="1152" y="604" width="36" height="16" fill="#b84a0c"/><ellipse cx="1170" cy="612" rx="9" ry="3" fill="#6a2a06"/>
<g font-weight="bold" font-size="14.500" fill="#333"><text x="1232" y="530">Tumor Cells</text><text x="1231" y="562">Red Blood Cells</text><text x="1232" y="591">Tf Receptor</text><text x="1231" y="616">Endothelial Cells</text></g>

<!-- Tumor cells -->
<path d="M1450,320C1470,270 1530,240 1600,238C1680,236 1730,280 1750,350C1765,420 1740,480 1690,520L1500,520C1460,480 1440,390 1450,320Z" fill="#dcebd2"/>
<g>
<use href="#gc" x="1598" y="248"/><use href="#gc" x="1527" y="257"/><use href="#gc" x="1633" y="259"/><use href="#gc" x="1705" y="297"/><use href="#gc" x="1635" y="307"/><use href="#gc" transform="translate(1637,336) scale(1.1)"/><use href="#gc" x="1617" y="370"/><use href="#gc" x="1650" y="372"/><use href="#gc" x="1662" y="393"/><use href="#gc" x="1553" y="385"/><use href="#gc" transform="translate(1740,345)"/><use href="#gc" x="1747" y="387"/><use href="#gc" x="1740" y="414"/><use href="#gc" x="1615" y="408"/><use href="#gc" x="1628" y="414"/><use href="#gc" x="1568" y="439"/><use href="#gc" x="1727" y="456"/><use href="#gc" x="1675" y="489"/><use href="#gc" x="1658" y="515"/><use href="#gc" x="1697" y="515"/><use href="#gc" x="1638" y="525"/><use href="#gc" x="1533" y="515"/><use href="#gc" x="1638" y="500"/><use href="#gc" x="1667" y="343"/>
<use href="#gc" x="1483" y="270"/><use href="#gc" x="1448" y="317"/><use href="#gc" x="1450" y="328"/><use href="#gc" x="1453" y="340"/><use href="#gc" x="1470" y="397"/><use href="#gc" x="1488" y="447"/><use href="#gc" x="1470" y="483"/><use href="#gc" x="1493" y="507"/><use href="#gc" x="1500" y="473"/><use href="#gc" x="1500" y="300"/><use href="#gc" x="1600" y="345"/><use href="#gc" x="1640" y="440"/>
<use href="#dc" x="1552" y="250"/><use href="#dc" x="1517" y="278"/><use href="#dc" x="1575" y="274"/><use href="#dc" transform="translate(1593,305) scale(1.15)"/><use href="#dc" x="1617" y="286"/><use href="#dc" x="1643" y="274"/><use href="#dc" x="1678" y="272"/><use href="#dc" transform="translate(1727,313) scale(1.1,1.3)"/><use href="#dc" x="1568" y="330"/><use href="#dc" x="1610" y="343"/><use href="#dc" x="1573" y="360"/><use href="#dc" x="1532" y="362"/><use href="#dc" transform="translate(1582,406) scale(1.2)"/><use href="#dc" transform="translate(1653,424) scale(1,1.4)"/><use href="#dc" transform="translate(1598,448) scale(1,1.1)"/><use href="#dc" x="1710" y="487"/><use href="#dc" x="1507" y="494"/><use href="#dc" x="1550" y="305"/><use href="#dc" x="1727" y="378"/>
<use href="#dc" x="1473" y="298"/><use href="#dc" x="1513" y="278"/><use href="#dc" x="1460" y="357"/><use href="#dc" x="1460" y="387"/><use href="#dc" transform="translate(1470,443) scale(1,1.6)"/><use href="#dc" transform="translate(1507,495) scale(1.1,1.2)"/>
</g>
<path d="M1558,545L1543,502L1503,462L1493,433L1488,375L1497,340L1510,318L1522,328L1525,378L1533,404L1563,448L1587,462L1623,469L1643,454L1663,431L1678,404L1672,351L1662,320L1660,282L1700,322L1713,347L1717,381L1717,424L1703,447L1677,471L1623,494L1612,515L1615,545Z" fill="url(#tree)"/>
<rect x="1462" y="541" width="292" height="74" fill="url(#ves)"/>
<rect x="1555" y="535" width="60" height="12" fill="#f8b48c"/>
<g fill="none" stroke="#b84a0c" stroke-width="6.500" stroke-linecap="round" stroke-linejoin="round">
<path d="M1557,541L1543,502L1503,462L1493,433L1490,412"/>
<path d="M1488,375L1497,340L1506,322"/>
<path d="M1615,541L1612,515L1623,494L1677,471L1703,447L1717,424"/>
<path d="M1717,381L1713,347L1700,322L1660,282"/>
<path d="M1522,328L1525,378L1533,404L1563,448L1587,462L1621,469"/>
<path d="M1672,351L1677,401"/><path d="M1678,404L1663,431L1643,454"/>
<path d="M1623,276L1662,320"/>
</g>
<g fill="#b84a0c"><rect x="1462" y="537" width="95" height="9" rx="2"/><rect x="1615" y="537" width="139" height="9"/><rect x="1462" y="610" width="292" height="9" rx="2"/></g>
<g fill="#6a2a06"><ellipse cx="1525" cy="541" rx="16" ry="1.500"/><ellipse cx="1672" cy="541" rx="20" ry="1.500"/><ellipse cx="1533" cy="615" rx="18" ry="1.500"/><ellipse cx="1672" cy="615" rx="20" ry="1.500"/></g>
<g>
<use href="#rb" x="1540" y="278"/><use href="#rb" x="1607" y="273"/><use href="#rb" x="1654" y="292"/><use href="#rb" x="1526" y="299"/><use href="#rb" x="1612" y="314"/><use href="#rb" x="1508" y="324"/><use href="#rb" x="1687" y="351"/><use href="#rb" x="1550" y="364"/><use href="#rb" x="1587" y="390"/><use href="#rb" x="1732" y="355"/><use href="#rb" x="1736" y="385"/><use href="#rb" x="1726" y="397"/><use href="#rb" x="1582" y="410"/><use href="#rb" x="1507" y="420"/><use href="#rb" x="1602" y="424"/><use href="#rb" x="1627" y="423"/><use href="#rb" x="1688" y="423"/><use href="#rb" x="1621" y="445"/><use href="#rb" x="1532" y="471"/><use href="#rb" x="1579" y="483"/><use href="#rb" x="1640" y="474"/><use href="#rb" x="1584" y="529"/><use href="#rb" x="1561" y="569"/><use href="#rb" x="1710" y="572"/><use href="#rb" x="1647" y="599"/><use href="#rb" x="1510" y="601"/><use href="#rb" x="1449" y="368"/><use href="#rb" x="1462" y="387"/><use href="#rb" x="1489" y="397"/><use href="#rb" x="1467" y="413"/>
<use href="#np" x="1624" y="269"/><use href="#np" x="1683" y="283"/><use href="#np" x="1571" y="286"/><use href="#np" x="1538" y="296"/><use href="#np" x="1557" y="309"/><use href="#np" x="1515" y="311"/><use href="#np" x="1612" y="329"/><use href="#np" x="1631" y="341"/><use href="#np" x="1667" y="347"/><use href="#np" x="1624" y="369"/><use href="#np" x="1507" y="342"/><use href="#np" x="1638" y="395"/><use href="#np" x="1510" y="390"/><use href="#np" x="1727" y="316"/><use href="#np" x="1707" y="402"/><use href="#np" x="1724" y="422"/><use href="#np" x="1631" y="461"/><use href="#np" x="1569" y="503"/><use href="#np" x="1540" y="584"/><use href="#np" x="1599" y="579"/><use href="#np" x="1677" y="595"/><use href="#np" x="1450" y="400"/><use href="#np" x="1445" y="420"/><use href="#np" x="1458" y="462"/>
</g>
<g fill="none" stroke="#000" stroke-width="3" stroke-dasharray="9 5">
<rect x="1127" y="275" width="249" height="162"/>
<rect x="1595" y="352" width="44" height="38"/>
<path d="M1376,275L1595,352M1376,437L1595,390"/>
</g>
<text font-weight="bold" font-size="19" fill="#333" text-anchor="middle" x="1613" y="641">Thermal Targeting</text>

<!-- Tissue panels -->
<g id="tis">
<rect x="1222" y="745" width="166" height="125" fill="#9058ae"/><rect x="1222" y="745" width="166" height="125" filter="url(#ftd)"/><rect x="1222" y="745" width="166" height="125" filter="url(#ftl)"/>
<rect x="1395" y="745" width="166" height="125" fill="#8250ac"/><rect x="1395" y="745" width="166" height="125" filter="url(#ftd)"/><rect x="1395" y="745" width="166" height="125" filter="url(#ftl)" opacity=".55"/>
<rect x="1568" y="745" width="122" height="125" fill="#8c56ac"/><rect x="1568" y="745" width="122" height="125" filter="url(#ftd)"/><rect x="1568" y="745" width="122" height="125" filter="url(#ftl)"/>
<rect x="1222" y="874" width="166" height="126" fill="#a070bc"/><rect x="1222" y="874" width="166" height="126" filter="url(#ftd)" opacity=".5"/><rect x="1222" y="874" width="166" height="126" filter="url(#ftl)" opacity=".4"/>
<rect x="1395" y="874" width="166" height="126" fill="#8a5cb2"/><rect x="1395" y="874" width="166" height="126" filter="url(#ftd)"/><rect x="1395" y="874" width="166" height="126" filter="url(#ftl)"/>
<rect x="1568" y="874" width="122" height="126" fill="#8a58ae"/><rect x="1568" y="874" width="122" height="126" filter="url(#ftd)"/><rect x="1568" y="874" width="122" height="126" filter="url(#ftl)"/>
<g filter="url(#jag2)" opacity=".6"><ellipse cx="1460" cy="958" rx="30" ry="18" fill="#d8c0d8"/><ellipse cx="1530" cy="945" rx="20" ry="16" fill="#d8b0c8"/></g>
<g filter="url(#jag)" fill="#f02030"><ellipse cx="1413" cy="905" rx="24" ry="9"/><ellipse cx="1527" cy="908" rx="24" ry="16"/><ellipse cx="1500" cy="960" rx="22" ry="20"/><ellipse cx="1428" cy="972" rx="26" ry="15"/><ellipse cx="1505" cy="990" rx="30" ry="12"/><ellipse cx="1470" cy="885" rx="12" ry="5"/></g>
<g clip-path="url(#cTT)"><g filter="url(#jag)" fill="#f02030"><ellipse cx="1610" cy="900" rx="40" ry="18"/><ellipse cx="1660" cy="930" rx="30" ry="22"/><ellipse cx="1600" cy="950" rx="32" ry="24"/><ellipse cx="1650" cy="980" rx="40" ry="16"/></g></g>
<g fill="none" stroke="#fff" stroke-width="2"><ellipse cx="1522" cy="802" rx="14" ry="7" transform="rotate(-22 1522 802)"/><path d="M1284,762L1294,769M1404,750C1430,760 1470,756 1510,760"/></g>
<g fill="#111"><rect x="1355" y="858.500" width="24" height="3"/><rect x="1528" y="856.500" width="24" height="3"/><rect x="1359" y="988.500" width="24" height="3"/><rect x="1533" y="986.500" width="24" height="3"/><rect x="1662" y="856.500" width="24" height="3"/><rect x="1662" y="986.500" width="24" height="3"/></g>
<g stroke="#111" stroke-width="4" fill="none"><path d="M1436,921L1426,913M1540,952L1530,944M1465,991L1455,983M1620,910L1610,902M1660,958L1650,950M1610,974L1600,966"/></g>
<g fill="#111"><path d="M1421,909L1433,913L1425,921Z"/><path d="M1525,940L1537,944L1529,952Z"/><path d="M1450,979L1462,983L1454,991Z"/><path d="M1605,898L1617,902L1609,910Z"/><path d="M1645,946L1657,950L1649,958Z"/><path d="M1595,962L1607,966L1599,974Z"/></g>
</g>
<g font-weight="bold" fill="#111" font-size="20" text-anchor="middle"><text x="1307" y="736">Control</text><text x="1486" y="736">GNRS</text><text x="1629" y="736">Tf-GNRS</text></g>
<g font-weight="bold" fill="#222" font-size="23"><text x="1128" y="809">Laser-</text><text x="1128" y="961">Laser+</text></g>

<!-- ==== D top image ==== -->
<g clip-path="url(#cT1)"><rect x="1942" y="23" width="272" height="158" fill="#2f8e36"/>
<g fill="none" stroke="#80e070" stroke-width="3.500" filter="url(#cellf)"><circle cx="1985" cy="50" r="34"/><circle cx="2050" cy="40" r="32"/><circle cx="2110" cy="48" r="36"/><circle cx="2180" cy="50" r="34"/><circle cx="1980" cy="130" r="32"/><circle cx="2040" cy="160" r="34"/><circle cx="2110" cy="165" r="34"/><circle cx="2180" cy="150" r="32"/><circle cx="2010" cy="105" r="24"/></g></g>
<g clip-path="url(#cT2)"><rect x="2214" y="23" width="276" height="158" fill="#2b6270"/>
<g fill="none" stroke="#70c8d4" stroke-width="3.500" filter="url(#cellf)"><circle cx="2250" cy="50" r="34"/><circle cx="2320" cy="55" r="38"/><circle cx="2395" cy="48" r="36"/><circle cx="2465" cy="50" r="36"/><circle cx="2260" cy="160" r="34"/><circle cx="2335" cy="165" r="36"/><circle cx="2405" cy="160" r="34"/><circle cx="2470" cy="160" r="34"/></g>
<ellipse cx="2340" cy="85" rx="40" ry="12" fill="#5ab0c4" opacity=".6" filter="url(#bl2)"/></g>
<g clip-path="url(#cTop)">
<rect x="2214" y="23" width="6" height="158" fill="#0e3020" opacity=".6"/>
<path d="M1942,65C2000,64 2080,68 2120,73C2170,81 2220,88 2330,92H2490V130H2330C2260,130 2220,126 2190,115C2160,118 2120,128 2090,140C2050,150 2000,162 1942,172V141C1990,128 2040,112 2075,107C2040,104 1990,102 1942,102Z" fill="url(#vr)"/>
<path d="M2016,68C2060,70 2110,74 2140,80C2180,88 2230,94 2333,92V130C2280,130 2220,126 2190,115C2160,118 2120,128 2090,140C2060,148 2050,148 2040,142C2035,135 2030,132 2036,128C2050,116 2080,108 2108,105C2085,102 2050,100 2020,100C2010,90 2012,75 2016,68Z" fill="#c00808" stroke="#e86a10" stroke-width="3"/>
<path d="M2030,76C2080,78 2130,84 2170,92C2210,98 2270,100 2325,101V122C2270,122 2210,118 2160,106C2120,112 2080,122 2050,134C2080,112 2110,100 2130,96C2100,90 2060,88 2030,88Z" fill="#7a0404"/>
<ellipse cx="2333" cy="111" rx="6" ry="19" fill="#f06068"/>
</g>
<rect x="1942" y="23" width="548" height="158" fill="none" stroke="#555" stroke-width="1"/>
<g>
<use href="#tp" transform="translate(2083,88) scale(.72)"/><use href="#tp" transform="translate(2145,103) scale(.72)"/><use href="#tp" transform="translate(2228,105) scale(.72)"/><use href="#tp" transform="translate(2317,117) scale(.72)"/><use href="#tp" transform="translate(2056,132) scale(.72)"/>
<use href="#pill" x="2022" y="30"/><use href="#pill" x="2126" y="30"/><use href="#pill" x="2168" y="34"/><use href="#pill" x="2190" y="46"/><use href="#pill" x="2202" y="66"/><use href="#pill" x="1964" y="83"/><use href="#pill" x="2019" y="83"/><use href="#pill" x="1976" y="110"/><use href="#pill" x="2168" y="114"/><use href="#pill" x="2120" y="135"/><use href="#pill" x="2154" y="152"/><use href="#pill" x="2192" y="157"/><use href="#pill" x="2118" y="161"/><use href="#pill" x="2088" y="161"/><use href="#pill" x="2048" y="167"/><use href="#pill" x="1996" y="172"/>
<use href="#pill" x="2246" y="40"/><use href="#pill" x="2318" y="33"/><use href="#pill" x="2352" y="47"/><use href="#pill" x="2420" y="34"/><use href="#pill" x="2462" y="36"/><use href="#pill" x="2264" y="135"/><use href="#pill" x="2402" y="138"/><use href="#pill" x="2348" y="150"/><use href="#pill" x="2432" y="152"/><use href="#pill" x="2405" y="161"/><use href="#pill" x="2323" y="165"/>
<use href="#sy" transform="translate(2117,46) scale(1.1,.76)"/><use href="#sy" transform="translate(2401,50) scale(1.1,.76)"/><use href="#sy" transform="translate(2112,217) scale(1,.76)"/><use href="#sy" transform="translate(2425,212) scale(1,.72)"/>
</g>
<g font-size="18" fill="#333"><text x="1942" y="203">Tumor tissue</text><text x="2221" y="204">Adjacent normal tissue</text></g>
<g fill="none" stroke="#222" stroke-width="1.400" stroke-dasharray="4 2.500"><path d="M2084,155L2007,253M2099,162L2090,250M2007,253Q2050,215 2090,250M2342,153L2336,250M2360,152L2412,245M2336,250Q2375,205 2412,245"/></g>
<!-- mitos -->
<g transform="translate(1951,253) scale(1.17,1.06)"><use href="#mo" fill="url(#mgb)" stroke="#1a8a1a"/><use href="#mi" fill="#b8f0d8" stroke="#30b030" stroke-width="2"/><use href="#dots"/></g>
<g transform="translate(2313,247) scale(1.18,1.04)"><use href="#mo" fill="url(#mbb)" stroke="#2a6a7c"/><use href="#mi" fill="#8ae6f6" stroke="#2e6b7c" stroke-width="2"/><use href="#cr" stroke="#2e6b7c"/></g>
<g><use href="#tp" transform="translate(2352,284) scale(.55)"/><use href="#tp" transform="translate(2381,288) scale(.55)"/><use href="#tp" transform="translate(2432,267) scale(.55)"/></g>
<use href="#tp" x="2224" y="245"/>
<g fill="none" stroke="#111" stroke-width="2.600" stroke-linecap="round"><path d="M2191,248L2135,273M2148,258L2133,274L2153,276"/><path d="M2253,248L2311,266M2296,253L2313,267L2294,274"/><path d="M2431,303V354M2423,342L2431,355L2439,342"/><path d="M2028,357V408M2020,394L2028,409L2036,394"/><path d="M2129,436H2178M2165,428L2180,436L2165,444"/><path d="M2392,403C2350,425 2355,470 2392,488M2380,401L2392,403L2388,414M2380,489L2392,488L2388,477"/></g>
<path d="M2420,314L2442,338M2442,314L2420,338" stroke="#f01818" stroke-width="5.500"/>
<g font-weight="bold" fill="#111" font-size="27" text-anchor="middle"><text x="2002" y="239">A</text><text x="2003" y="388">B</text><text x="2149" y="432">C</text><text x="2385" y="457">D</text></g>
<g font-size="18" fill="#333"><text x="2224" y="291" text-anchor="middle">TPP-Au</text><text x="2036" y="340">Mito-Accumulation</text><text x="2275" y="342">Below  threshold</text><text x="2395" y="430">Caspase-3</text><text x="2441" y="518" text-anchor="middle">Cyt-c</text><text x="2180" y="518">Mitochondria disruption</text><text x="2035" y="518">Hypert <tspan font-weight="bold">i</tspan> rmia</text></g>
<path d="M2479,198V240" stroke="#40b8d8" stroke-width="5"/><path d="M2479,222V243" stroke="#d82020" stroke-width="5"/><circle cx="2479" cy="244" r="6" fill="#d82020"/>
<path d="M2106,376V422" stroke="#e02020" stroke-width="5"/><circle cx="2106" cy="424" r="6" fill="#d82020"/><circle cx="2106" cy="377" r="2.500" fill="#40b8d8"/>
<!-- hyperthermia -->
<path d="M1953,462C1955,440 1990,430 2030,428C2060,425 2110,425 2122,450C2125,470 2085,475 2060,488C2030,510 1965,512 1953,462Z" fill="url(#hb)"/>
<path d="M1958,456C1960,432 1972,428 1978,412C1983,424 1988,420 1995,405L2003,396C2006,410 2010,420 2016,415L2024,428C2040,432 2050,430 2056,418C2064,405 2066,390 2071,376C2076,390 2084,398 2088,402C2092,418 2106,425 2114,438C2122,455 2120,468 2100,468C2060,468 2010,478 1965,470Z" fill="url(#flame)"/>
<path d="M1968,452C1975,436 1982,436 1990,424C1996,432 2000,420 2005,414C2010,430 2018,432 2026,440C2040,440 2056,436 2064,424C2070,412 2072,406 2074,398C2080,416 2092,420 2100,436C2108,448 2106,456 2100,458L1975,462Z" fill="#ffd850" opacity=".65"/>
<path d="M1960,458C1975,448 2030,445 2060,445C2085,442 2105,445 2114,452C2090,462 2060,468 2030,480C2000,488 1975,478 1960,458Z" fill="#d8e07c"/>
<g transform="translate(1960,432) scale(1.05,.8)"><use href="#dots" opacity=".85"/></g>
<!-- disruption -->
<path d="M2248,390L2272,402L2328,403L2357,414L2345,445L2357,452L2310,465L2298,490L2276,481L2250,497L2208,490L2174,469L2191,428L2218,416L2238,407Z" fill="url(#dis)" stroke="#58b848"/>
<g fill="none" stroke="#0e8a1a" stroke-width="6" stroke-linecap="round"><path d="M2246,421L2306,410"/><path d="M2325,409L2345,417L2298,452L2259,469"/><path d="M2221,443L2204,462L2212,481L2250,474"/></g>
<use href="#tp" transform="translate(2227,417) scale(.55)"/><use href="#tp" transform="translate(2280,428) scale(.55)"/><use href="#tp" transform="translate(2236,450) scale(.55)"/><use href="#tp" transform="translate(2313,453) scale(.55)"/>
<use href="#sk" transform="translate(2439,390)" style="color:#78e050"/>
<use href="#sk" transform="translate(2441,478)" style="color:#f05860"/>

<!-- ==== D bottom ==== -->
<g transform="translate(1934,587)"><use href="#mo" fill="url(#mgb)" stroke="#1a8a1a"/><use href="#mi" fill="#b8f0d8" stroke="#30b030" stroke-width="2"/><use href="#dots"/></g>
<g transform="translate(1934,737) scale(1,.96)"><use href="#mo" fill="url(#mbb)" stroke="#2a6a7c"/><use href="#mi" fill="#8ae6f6" stroke="#2e6b7c" stroke-width="2"/><use href="#cr" stroke="#2e6b7c"/><use href="#tp" transform="translate(32,43) scale(.45)"/><use href="#tp" transform="translate(58,42) scale(.45)"/><use href="#tp" transform="translate(95,22) scale(.45)"/></g>
<g transform="translate(1934,882) scale(1,.98)"><use href="#mo" fill="url(#mgb)" stroke="#1a8a1a"/><use href="#mi" fill="#b4f4c8" stroke="#1f8a28" stroke-width="2"/><use href="#cr" stroke="#1f8a28"/><use href="#tp" transform="translate(38,40) scale(.38)"/><use href="#tp" transform="translate(58,34) scale(.38)"/><use href="#tp" transform="translate(100,17) scale(.38)"/></g>
<g font-size="18" fill="#444" text-anchor="middle"><text x="2008" y="696">TPP-Au HeLa</text><text x="2008" y="834">TPP-Au COS7</text><text x="2008" y="989">Lys-Au HeLa</text></g>
<g stroke="#222" stroke-width="1.500">
<rect x="2085" y="551" width="181" height="150" fill="#989898"/>
<rect x="2085" y="706" width="181" height="142" fill="#8a8a8a"/>
<rect x="2085" y="854" width="181" height="142" fill="#929292"/>
<rect x="2298" y="551" width="189" height="150" fill="#8c8c8c"/>
<rect x="2298" y="706" width="189" height="142" fill="#7e7e7e"/>
<rect x="2298" y="854" width="189" height="142" fill="#6a6a6a"/>
</g>
<g opacity=".5">
<rect x="2085" y="551" width="181" height="150" filter="url(#nd)"/><rect x="2085" y="706" width="181" height="142" filter="url(#tmd)" opacity=".3"/><rect x="2085" y="854" width="181" height="142" filter="url(#tmd)" opacity=".25"/>
<rect x="2298" y="551" width="189" height="150" filter="url(#nd)" opacity=".6"/><rect x="2298" y="706" width="189" height="142" filter="url(#nd)" opacity=".6"/><rect x="2298" y="854" width="189" height="142" filter="url(#nd)" opacity=".7"/>
</g>
<ellipse cx="2169" cy="585" rx="29" ry="27" fill="#5e5e5e" filter="url(#bl2)"/>
<path d="M2110,551C2095,590 2120,650 2160,640C2185,635 2200,625 2210,610" fill="none" stroke="#444" stroke-width="1.600"/>
<path d="M2085,690H2130L2115,701H2085Z" fill="#c4c4c4" filter="url(#bl2)"/>
<ellipse cx="2135" cy="950" rx="9" ry="8" fill="#c8c8c8" filter="url(#bl1)"/><ellipse cx="2150" cy="930" rx="13" ry="12" fill="#c4c4c4" filter="url(#bl1)"/>
<ellipse cx="2249" cy="942" rx="8" ry="7" fill="#c8c8c8" filter="url(#bl1)"/>
<path d="M2130,854L2190,885L2125,910" fill="#7c7c7c" filter="url(#bl2)" opacity=".7"/>
<circle cx="2252" cy="609" r="4" fill="#111"/><circle cx="2132" cy="655" r="3.500" fill="#111"/><circle cx="2211" cy="815" r="2.500" fill="#111"/><circle cx="2205" cy="917" r="1.500" fill="#111"/><circle cx="2150" cy="958" r="3" fill="#111"/>
<g filter="url(#jag2)" fill="#0c0c0c"><ellipse cx="2398" cy="570" rx="20" ry="13"/><ellipse cx="2350" cy="612" rx="10" ry="12"/><ellipse cx="2392" cy="606" rx="18" ry="10"/><ellipse cx="2405" cy="640" rx="34" ry="22"/><ellipse cx="2440" cy="650" rx="8" ry="10"/><ellipse cx="2368" cy="762" rx="14" ry="16"/><ellipse cx="2360" cy="777" rx="11" ry="12"/><ellipse cx="2372" cy="750" rx="14" ry="11"/><ellipse cx="2422" cy="904" rx="11" ry="11"/><ellipse cx="2399" cy="947" rx="5" ry="5"/></g>
<ellipse cx="2395" cy="775" rx="55" ry="58" fill="none" stroke="#555" stroke-width="2" opacity=".6"/>
<g font-size="19" fill="#222"><text x="2090" y="685">1 µm</text><text x="2088" y="837">0.5 µm</text><text x="2088" y="984">0.5 µm</text><text x="2300" y="689">100 nm</text><text x="2300" y="835">100 nm</text><text x="2300" y="984">100 nm</text></g>
<g fill="#111"><rect x="2099" y="693" width="20" height="2.500"/><rect x="2090" y="840" width="17" height="2.500"/><rect x="2092" y="988" width="16" height="2.500"/><rect x="2307" y="693" width="24" height="2.500"/><rect x="2307" y="840" width="24" height="2.500"/><rect x="2307" y="988" width="24" height="2.500"/></g>
<g font-size="18" fill="#222" text-anchor="middle"><text transform="translate(2290,628) rotate(-90)">(Amplified)</text><text transform="translate(2290,788) rotate(-90)">(Amplified)</text><text transform="translate(2290,922) rotate(-90)">(Amplified)</text></g>
<g fill="none" stroke="#e01c1c" stroke-width="1.800" stroke-dasharray="4 2"><rect x="2121" y="642" width="28" height="26"/><rect x="2199" y="802" width="28" height="26"/><rect x="2189" y="901" width="28" height="27"/></g>
<g fill="none" stroke="#e01c1c" stroke-width="1.800" stroke-dasharray="7 4"><path d="M2149,642L2295,552M2149,668L2295,701M2227,802L2295,712M2227,828L2295,846M2217,901L2295,857M2217,928L2295,990"/></g>
<g font-weight="bold" font-size="17" text-anchor="middle" fill="#ee1010"><text x="2208" y="613">M</text><text x="2097" y="650">M</text><text x="2152" y="729">M</text><text x="2175" y="768">M</text><text x="2176" y="811">M</text><text x="2156" y="917">M</text><text x="2177" y="962">M</text></g>
<g font-weight="bold" font-size="17" text-anchor="middle" fill="#f0a010"><text x="2230" y="591">L</text><text x="2201" y="673">L</text><text x="2134" y="752">L</text><text x="2228" y="924">L</text><text x="2125" y="941">L</text><text x="2219" y="953">L</text><text x="2095" y="954">L</text></g>
<g font-weight="bold" font-size="17" text-anchor="middle" fill="#1878d0"><text x="2094" y="619">N</text><text x="2128" y="801">N</text><text x="2172" y="887">N</text></g>
<g fill="none" stroke-width="2.400" stroke-linecap="round">
<g stroke="#ee1010"><path d="M2099,653L2118,661M2111,660L2118,661L2114,655M2162,722L2182,727M2175,729L2182,727L2177,721M2184,761L2206,767M2199,769L2206,767L2201,761M2177,815L2197,822M2190,824L2197,822L2192,816M2166,909L2186,915M2179,917L2186,915L2181,909M2186,955L2206,962M2199,964L2206,962L2201,956"/></g>
<g stroke="#f0a010"><path d="M2238,587L2255,592M2249,595L2255,592L2250,587M2212,675L2230,682M2224,684L2230,682L2225,677M2127,751L2119,768M2119,761L2119,768L2125,764M2231,928L2243,942M2236,940L2243,942L2242,935M2133,934L2150,940M2144,942L2150,940L2145,935M2227,945L2244,952M2238,954L2244,952L2239,947M2107,952L2127,959M2120,961L2127,959L2122,953"/></g>
<g stroke="#1878d0"><path d="M2099,603L2123,585M2116,586L2123,585L2121,592M2122,797L2099,809M2106,808L2099,809L2102,803M2163,881L2147,873M2154,873L2147,873L2150,879"/></g>
<g stroke="#fff"><path d="M2223,606L2243,612M2236,614L2243,612L2238,606M2101,905L2122,912M2115,914L2122,912L2117,906"/></g>
</g>
</g>
</svg>
</body></html>
